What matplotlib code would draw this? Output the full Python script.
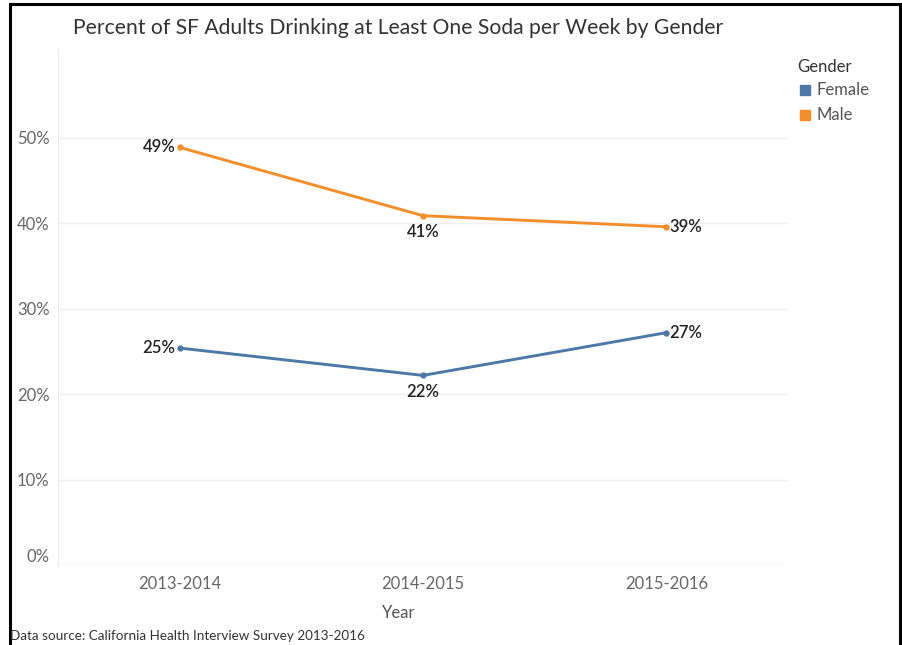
import numpy as np
from matplotlib import pyplot as plt
from matplotlib.patches import Rectangle

# data
years = ['2013-2014', '2014-2015', '2015-2016']
female = [25.4, 22.2, 27.2]
male = [48.9, 40.9, 39.6]
female_labels = ['25%', '22%', '27%']
male_labels = ['49%', '41%', '39%']
yticks = [0, 10, 20, 30, 40, 50]

blue = '#4e79a7'
orange = '#f28e2b'

plt.rcParams['font.family'] = ['Lato', 'DejaVu Sans']

fig = plt.figure(figsize=(9.02, 6.45), dpi=100)
ax = fig.add_axes([58/902, 80/645, 730/902, 515/645])

x = np.arange(len(years))
ax.plot(x, male, color=orange, lw=2.1, marker='o', ms=3.5, zorder=3)
ax.plot(x, female, color=blue, lw=2.1, marker='o', ms=3.5, zorder=3)

# point labels: left, below, right
lab_kw = dict(fontsize=12, color='#222222', fontweight='semibold')
for series, labels in [(male, male_labels), (female, female_labels)]:
    ax.annotate(labels[0], (x[0], series[0]), xytext=(-3, 0), textcoords='offset points',
                ha='right', va='center', **lab_kw)
    ax.annotate(labels[1], (x[1], series[1]), xytext=(0, -6), textcoords='offset points',
                ha='center', va='top', **lab_kw)
    ax.annotate(labels[2], (x[2], series[2]), xytext=(2, 0), textcoords='offset points',
                ha='left', va='center', **lab_kw)

ax.set_xlim(-0.5, 2.5)
ax.set_ylim(0, 60.3)
ax.set_yticks(yticks)
ax.set_yticklabels([f'{v}%' for v in yticks])
ax.set_xticks(x)
ax.set_xticklabels(years)
ax.tick_params(axis='both', length=0, labelsize=12, labelcolor='#666666')
ax.tick_params(axis='y', pad=6)
ax.tick_params(axis='x', pad=8)
ax.get_yticklabels()[0].set_verticalalignment('bottom')

ax.grid(axis='y', color='#f0f0f0', lw=1)
for s in ['top', 'right', 'bottom']:
    ax.spines[s].set_visible(False)
ax.spines['left'].set_color('#ececec')
ax.axhline(0, color='#ececec', lw=1)

fig.text(73/902, 1 - 28/645, 'Percent of SF Adults Drinking at Least One Soda per Week by Gender',
         fontsize=15.2, color='#333333', ha='left', va='center')
fig.text(399/902, 1 - 613/645, 'Year', fontsize=12, color='#555555', ha='center', va='center')
fig.text(10/902, 1 - 636/645, 'Data source: California Health Interview Survey 2013-2016',
         fontsize=9.75, color='#333333', ha='left', va='center')

# legend
fig.text(797/902, 1 - 67/645, 'Gender', fontsize=12, color='#333333', ha='left', va='center')
for i, (name, col) in enumerate([('Female', blue), ('Male', orange)]):
    yc = 90 + 25 * i
    fig.patches.append(Rectangle((800/902, 1 - (yc + 5)/645), 10/902, 10/645,
                                 transform=fig.transFigure, color=col))
    fig.text(817/902, 1 - yc/645, name, fontsize=12, color='#555555', ha='left', va='center')

# frame around the image
fig.patches.append(Rectangle((10/902, -0.05), 890/902, 1.05 - 4/645, transform=fig.transFigure,
                             fill=False, ec='black', lw=2.2))

fig.savefig('out.png', dpi=100)
